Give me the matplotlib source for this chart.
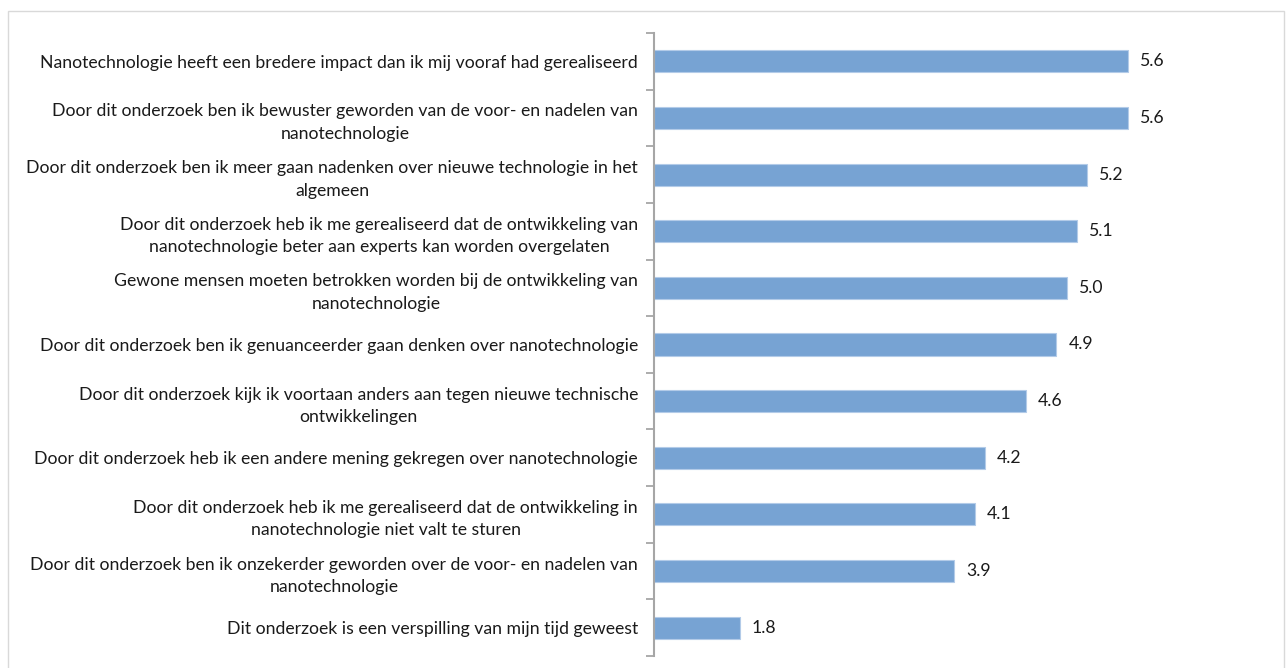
import matplotlib.pyplot as plt
from matplotlib.patches import Rectangle

plt.rcParams["font.family"] = ["Lato", "DejaVu Sans"]

# statements, top to bottom, and their mean scores
statements = [
    "Nanotechnologie heeft een bredere impact dan ik mij vooraf had gerealiseerd",
    "Door dit onderzoek ben ik bewuster geworden van de voor- en nadelen van\nnanotechnologie",
    "Door dit onderzoek ben ik meer gaan nadenken over nieuwe technologie in het\nalgemeen",
    "Door dit onderzoek heb ik me gerealiseerd dat de ontwikkeling van\nnanotechnologie beter aan experts kan worden overgelaten",
    "Gewone mensen moeten betrokken worden bij de ontwikkeling van\nnanotechnologie",
    "Door dit onderzoek ben ik genuanceerder gaan denken over nanotechnologie",
    "Door dit onderzoek kijk ik voortaan anders aan tegen nieuwe technische\nontwikkelingen",
    "Door dit onderzoek heb ik een andere mening gekregen over nanotechnologie",
    "Door dit onderzoek heb ik me gerealiseerd dat de ontwikkeling in\nnanotechnologie niet valt te sturen",
    "Door dit onderzoek ben ik onzekerder geworden over de voor- en nadelen van\nnanotechnologie",
    "Dit onderzoek is een verspilling van mijn tijd geweest",
]
scores = [5.6, 5.6, 5.2, 5.1, 5.0, 4.9, 4.6, 4.2, 4.1, 3.9, 1.8]

x_min, x_max = 0.96, 7.0
fsize = 12.7

fig = plt.figure(figsize=(12.88, 6.68), dpi=100)
ax = fig.add_axes([654 / 1288, 12 / 668, (1271 - 654) / 1288, (635 - 12) / 668])

ypos = list(range(len(statements)))
lefts = [x_min] * len(scores)
widths = [s - x_min for s in scores]
ax.barh(ypos, widths, left=lefts, height=0.39, color="#77a3d3",
        edgecolor="#b3cbe8", linewidth=0.8, zorder=2)

for y, s in zip(ypos, scores):
    ax.annotate(f"{s:.1f}", (s, y), xytext=(8.5, 0), textcoords="offset points",
                va="center", ha="left", fontsize=fsize, color="#1a1a1a")

ax.set_xlim(x_min, x_max)
ax.set_ylim(len(statements) - 0.5, -0.5)

ax.set_yticks(ypos)
ax.set_yticklabels(statements, fontsize=fsize, color="#1a1a1a",
                   multialignment="center", linespacing=1.5)
ax.tick_params(axis="y", which="major", length=0, pad=11.5)
ax.set_yticks([y - 0.5 for y in range(len(statements) + 1)], minor=True)
ax.tick_params(axis="y", which="minor", length=6, width=1.3,
               color="#a6a6a6", direction="out")

ax.xaxis.set_visible(False)
for side in ("top", "right", "bottom"):
    ax.spines[side].set_visible(False)
ax.spines["left"].set_color("#a6a6a6")
ax.spines["left"].set_linewidth(1.5)

# light border around the chart area
fig.patches.append(Rectangle((8 / 1288, -0.01), (1284 - 8) / 1288, 1 - 11 / 668 + 0.01,
                             transform=fig.transFigure, fill=False,
                             edgecolor="#d9d9d9", linewidth=1))

fig.savefig("out.png", dpi=100)
